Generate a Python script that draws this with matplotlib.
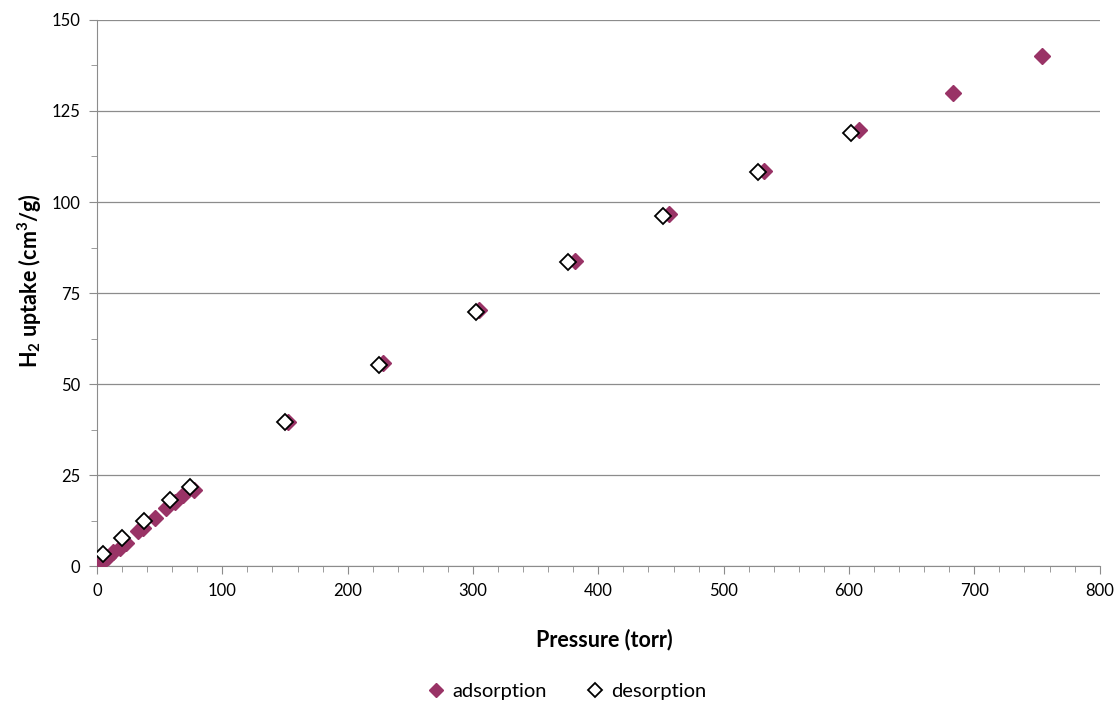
import matplotlib
matplotlib.use('Agg')
import matplotlib.pyplot as plt
from matplotlib.ticker import MultipleLocator

plt.rcParams['font.family'] = ['Lato', 'DejaVu Sans']
plt.rcParams['mathtext.fontset'] = 'custom'
plt.rcParams['mathtext.rm'] = 'Lato'
plt.rcParams['mathtext.bf'] = 'Lato:bold'

# adsorption branch
ads_p = [0.5, 2, 5, 9, 13, 18, 23, 33, 37, 46, 55, 62, 69, 77,
         152, 228, 305, 381, 456, 532, 608, 683, 754]
ads_u = [0.2, 0.6, 1.5, 2.6, 3.8, 5.0, 6.2, 9.6, 10.5, 13.2, 16.0, 17.6, 19.5, 21.0,
         39.6, 55.8, 70.3, 83.8, 96.7, 108.5, 119.7, 130.0, 140.1]

# desorption branch
des_p = [5, 20, 37.5, 58, 74, 150, 225, 302, 376, 452, 527.5, 602]
des_u = [3.4, 7.8, 12.4, 18.0, 21.7, 39.6, 55.2, 69.8, 83.5, 96.2, 108.2, 119.0]

fig = plt.figure(figsize=(11.19, 7.04), dpi=100)
ax = fig.add_axes([0.0867, 0.196, 0.896, 0.7756])

ax.plot(ads_p, ads_u, linestyle='none', marker='D', markersize=8,
        color='#993366', markeredgecolor='#993366', label='adsorption', zorder=3)
ax.plot(des_p, des_u, linestyle='none', marker='D', markersize=8,
        markerfacecolor='white', markeredgecolor='black', markeredgewidth=1.3,
        label='desorption', zorder=4)

ax.set_xlim(0, 800)
ax.set_ylim(0, 150)
ax.xaxis.set_major_locator(MultipleLocator(100))
ax.xaxis.set_minor_locator(MultipleLocator(20))
ax.yaxis.set_major_locator(MultipleLocator(25))
ax.yaxis.set_minor_locator(MultipleLocator(12.5))
ax.grid(axis='y', which='major', color='#8c8c8c', linewidth=0.9)
ax.set_axisbelow(True)

for s in ['top', 'right']:
    ax.spines[s].set_visible(False)
for s in ['left', 'bottom']:
    ax.spines[s].set_color('#8c8c8c')
ax.tick_params(which='major', direction='out', length=6, color='#8c8c8c',
               labelsize=12, pad=6)
ax.tick_params(which='minor', direction='out', length=4, color='#8c8c8c')

ax.set_xlabel('Pressure (torr)', fontsize=15.5, fontweight='bold')
ax.xaxis.set_label_coords(0.506, -0.114)
ax.set_ylabel(r'H$_\mathbf{2}$ uptake (cm$^\mathbf{3}$/g)', fontsize=15.5,
              fontweight='bold')
ax.yaxis.set_label_coords(-0.053, 0.522)

fig.legend(loc='center', bbox_to_anchor=(0.507, 0.018), ncol=2, frameon=False,
           fontsize=14.5, handlelength=0.8, handletextpad=0.4, columnspacing=2.0,
           markerscale=0.85)

fig.savefig('out.png', dpi=100)
